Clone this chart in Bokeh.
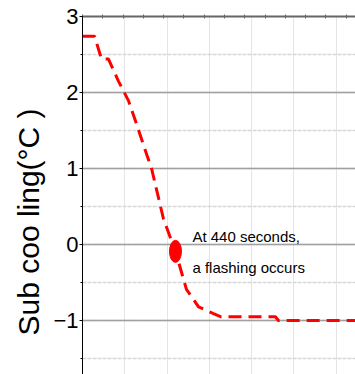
from bokeh.plotting import figure
from bokeh.models import Range1d, LinearAxis, FixedTicker, SingleIntervalTicker, Label, Title
from bokeh.embed import file_html
from bokeh.resources import INLINE

# ---- data ----
t_sec = [0, 57, 90, 123, 170, 218, 255, 308, 326, 383, 440, 492, 520, 549, 620, 653, 913, 927, 1292]
subcool = [2.74, 2.74, 2.44, 2.44, 2.15, 1.89, 1.59, 1.15, 1.01, 0.34, -0.09, -0.59, -0.70, -0.82,
           -0.91, -0.95, -0.95, -1.00, -1.00]
flash_t = [440]
flash_v = [-0.09]
note_line1 = "At 440 seconds,"
note_line2 = "a flashing occurs"
y_title = "Sub coo ling(\u00b0C )"
top_ticks = [96 * k for k in range(0, 14)]

p = figure(width=355, height=374, output_backend="svg", toolbar_location=None,
           x_range=Range1d(0, 1292), y_range=Range1d(-1.71, 3),
           x_axis_location=None,
           min_border_left=82, min_border_right=0, min_border_top=16, min_border_bottom=0)
p.outline_line_color = None
p.background_fill_color = "white"
p.border_fill_color = "white"

# y axis
yax = p.yaxis[0]
yax.ticker = SingleIntervalTicker(interval=1, num_minor_ticks=2)
yax.axis_line_color = "black"
yax.axis_line_width = 1
yax.major_tick_line_color = "black"
yax.major_tick_in = 0
yax.major_tick_out = 3
yax.minor_tick_line_color = "black"
yax.minor_tick_in = 0
yax.minor_tick_out = 2
yax.major_label_text_font = "Liberation Sans"
yax.major_label_text_font_size = "22px"
yax.major_label_text_color = "black"
yax.major_label_standoff = 1

p.ygrid.grid_line_color = "#a0a0a0"
p.ygrid.grid_line_width = 1.5
p.ygrid.minor_grid_line_color = "#d6d6d6"
p.ygrid.minor_grid_line_width = 1.5
p.ygrid.minor_grid_line_dash = "4 1"
p.ygrid.ticker = yax.ticker

# top frame axis with small ticks only (no labels)
top = LinearAxis(ticker=FixedTicker(ticks=[], minor_ticks=top_ticks))
top.axis_line_color = "#666666"
top.axis_line_width = 2
top.major_tick_line_color = None
top.minor_tick_line_color = "#666666"
top.minor_tick_in = 2
top.minor_tick_out = 2
p.add_layout(top, "above")

# y title, placed lower than the frame centre as in the reference
p.add_layout(Title(text=y_title, align="left", offset=39, text_font="Liberation Sans",
                   text_font_size="30px", text_font_style="normal", text_color="black",
                   standoff=12), "left")

# data line
p.line(t_sec, subcool, line_color="#ff0000", line_width=3, line_dash="13 7")
p.ellipse(x=flash_t, y=flash_v, width=12, height=22, width_units="screen", height_units="screen",
          fill_color="#ff0000", line_color="#ff0000")

# annotation
p.add_layout(Label(x=520, y=0.112, text=note_line1, text_font="Liberation Sans",
                   text_font_size="15px", text_color="black", text_baseline="alphabetic"))
p.add_layout(Label(x=520, y=-0.296, text=note_line2, text_font="Liberation Sans",
                   text_font_size="15px", text_color="black", text_baseline="alphabetic"))

open("out.html", "w").write(file_html(p, INLINE))
